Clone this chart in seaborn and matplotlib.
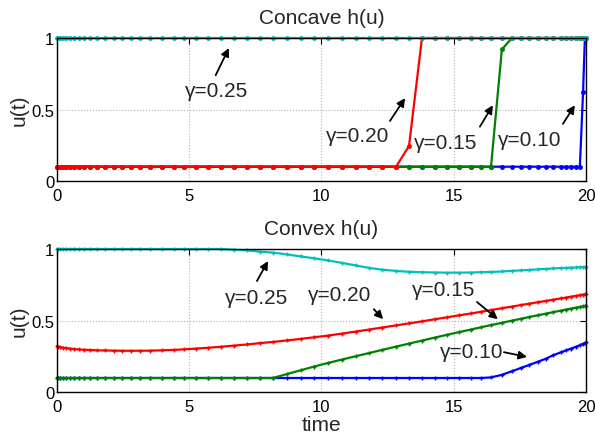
import matplotlib
matplotlib.use("Agg")
import matplotlib.pyplot as plt
import seaborn as sns
import pandas as pd

# ---------------- data ----------------
time_nodes = [0.00, 0.04, 0.11, 0.23, 0.34, 0.49, 0.64, 0.83, 1.02, 1.25,
              1.51, 1.81, 2.16, 2.46, 2.80, 3.14, 3.52, 3.97, 4.42, 4.80,
              5.26, 5.71, 6.20, 6.69, 7.18, 7.67, 8.17, 8.70, 9.22, 9.72,
              10.25, 10.78, 11.30, 11.80, 12.29, 12.82, 13.31, 13.80, 14.29, 14.74,
              15.20, 15.65, 16.03, 16.41, 16.82, 17.20, 17.54, 17.84, 18.19, 18.49,
              18.75, 19.05, 19.24, 19.43, 19.62, 19.77, 19.89, 19.96, 20.00]

gamma_labels = ["γ=0.10", "γ=0.15", "γ=0.20", "γ=0.25"]

# Concave h(u)
concave_g010 = [0.1] * 56 + [0.62, 1.0, 1.0]
concave_g015 = [0.1] * 44 + [0.92] + [1.0] * 14
concave_g020 = [0.1] * 36 + [0.245] + [1.0] * 22
concave_g025 = [1.0] * 59

# Convex h(u)
convex_g010 = [0.1] * 43 + [0.104, 0.122, 0.147, 0.170, 0.190, 0.214, 0.235,
                            0.258, 0.279, 0.292, 0.305, 0.318, 0.329, 0.338,
                            0.344, 0.348]
convex_g015 = [0.1] * 27 + [0.128, 0.154, 0.180, 0.205, 0.229, 0.252, 0.274,
                            0.296, 0.319, 0.340, 0.361, 0.382, 0.401, 0.420,
                            0.438, 0.454, 0.469, 0.485, 0.500, 0.513, 0.525,
                            0.538, 0.549, 0.559, 0.570, 0.577, 0.584, 0.591,
                            0.596, 0.600, 0.603, 0.604]
convex_g020 = [0.321, 0.319, 0.316, 0.312, 0.309, 0.305, 0.302, 0.299, 0.297, 0.295,
               0.293, 0.292, 0.291, 0.290, 0.290, 0.290, 0.291, 0.293, 0.296, 0.300,
               0.305, 0.311, 0.318, 0.326, 0.334, 0.343, 0.352, 0.362, 0.373, 0.384,
               0.396, 0.410, 0.424, 0.438, 0.452, 0.467, 0.481, 0.495, 0.510, 0.523,
               0.537, 0.550, 0.562, 0.574, 0.587, 0.598, 0.609, 0.618, 0.629, 0.638,
               0.646, 0.655, 0.661, 0.667, 0.673, 0.678, 0.681, 0.684, 0.685]
convex_g025 = [1.0] * 23 + [0.995, 0.990, 0.982, 0.975, 0.962, 0.948, 0.935,
                            0.920, 0.903, 0.885, 0.868, 0.856, 0.847, 0.841,
                            0.838, 0.836, 0.835, 0.835, 0.836, 0.838, 0.840,
                            0.843, 0.847, 0.851, 0.854, 0.858, 0.861, 0.864,
                            0.867, 0.868, 0.870, 0.871, 0.872, 0.873, 0.873,
                            0.873]

x_ticks = [0, 5, 10, 15, 20]
y_ticks = [0, 0.5, 1]
y_tick_labels = ["0", "0.5", "1"]

# annotation text positions and arrows (data coords)
concave_notes = [  # label, text pos, arrow tail, arrow tip
    ("γ=0.25", (6.05, 0.63), (6.0, 0.74), (6.5, 0.93)),
    ("γ=0.20", (11.38, 0.315), (12.59, 0.42), (13.16, 0.58)),
    ("γ=0.15", (14.71, 0.27), (15.99, 0.38), (16.48, 0.53)),
    ("γ=0.10", (17.88, 0.29), (19.13, 0.40), (19.58, 0.53)),
]
convex_notes = [
    ("γ=0.25", (7.56, 0.665), (7.56, 0.777), (7.98, 0.916)),
    ("γ=0.20", (10.70, 0.686), (11.98, 0.58), (12.33, 0.51)),
    ("γ=0.15", (14.63, 0.72), (15.88, 0.63), (16.67, 0.51)),
    ("γ=0.10", (15.69, 0.282), (16.90, 0.28), (17.77, 0.247)),
]

colors = ["#0000FF", "#008000", "#FF0000", "#00BFBF"]

# ---------------- style ----------------
sns.set_theme(style="white")
plt.rcParams["font.family"] = ["Liberation Sans", "DejaVu Sans"]

fig = plt.figure(figsize=(5.95, 4.35), dpi=100)
ax_top = fig.add_axes([0.0958, 0.5816, 0.889, 0.3287])
ax_bot = fig.add_axes([0.0958, 0.0958, 0.889, 0.3295])


def make_df(series):
    rows = []
    for lab, vals in zip(gamma_labels, series):
        for t, v in zip(time_nodes, vals):
            rows.append({"time": t, "u": v, "gamma": lab})
    return pd.DataFrame(rows)


def draw_panel(ax, series, marker, ms, title, notes, xlabel=None):
    df = make_df(series)
    for lab, col in zip(gamma_labels, colors):
        sub = df[df["gamma"] == lab]
        sns.lineplot(data=sub, x="time", y="u", ax=ax, color=col,
                     linewidth=1.6, marker=marker, markersize=ms,
                     markeredgewidth=1.0, markeredgecolor=col,
                     estimator=None, sort=False, clip_on=False, legend=False)
    ax.set_xlim(0, 20)
    ax.set_ylim(0, 1)
    ax.set_xticks(x_ticks)
    ax.set_xticklabels([str(v) for v in x_ticks])
    ax.set_yticks(y_ticks)
    ax.set_yticklabels(y_tick_labels)
    ax.tick_params(axis="both", direction="in", length=4, width=0.8,
                   labelsize=12, top=True, right=True, colors="black")
    ax.tick_params(axis="x", pad=5)
    ax.tick_params(axis="y", pad=2)
    ax.grid(True, linestyle=":", color="0.7", linewidth=0.8)
    for sp in ax.spines.values():
        sp.set_visible(True)
        sp.set_color("black")
        sp.set_linewidth(1.0)
    ax.set_title(title, fontsize=15, pad=11)
    ax.set_ylabel("u(t)", fontsize=15, labelpad=2)
    if xlabel:
        ax.set_xlabel(xlabel, fontsize=15, labelpad=0.5)
    else:
        ax.set_xlabel("")
    for lab, tpos, tail, tip in notes:
        ax.text(tpos[0], tpos[1], lab, fontsize=15, ha="center", va="center")
        ax.annotate("", xy=tip, xytext=tail,
                    arrowprops=dict(arrowstyle="-|>", color="black", lw=1.3,
                                    mutation_scale=12, shrinkA=0, shrinkB=0))


draw_panel(ax_top, [concave_g010, concave_g015, concave_g020, concave_g025],
           ".", 5, "Concave h(u)", concave_notes)
draw_panel(ax_bot, [convex_g010, convex_g015, convex_g020, convex_g025],
           "+", 3.5, "Convex h(u)", convex_notes, xlabel="time")

fig.savefig("out.png", dpi=100)
